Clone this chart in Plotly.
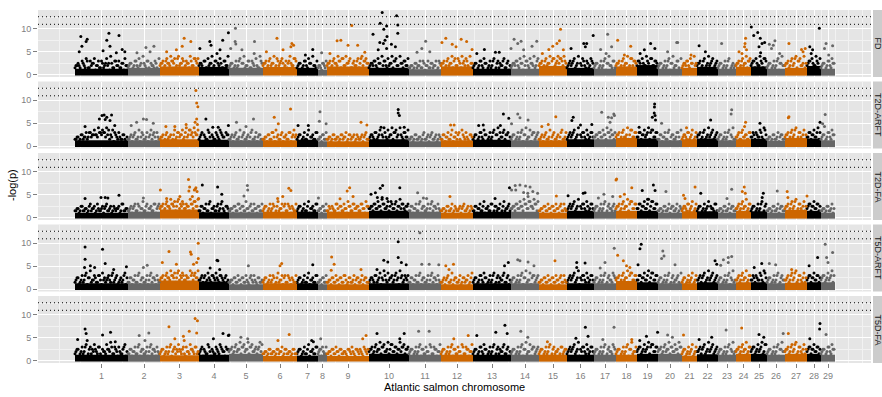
import plotly.graph_objects as go
from plotly.subplots import make_subplots

# ---------------- data ----------------
chromosomes = [str(i) for i in range(1, 30)]
chrom_size = [53, 32, 39, 30, 34, 34, 21, 9, 42, 40, 32, 32, 38, 28, 28, 27, 22, 21, 21,
              24, 15, 21, 18, 15, 16, 18, 22, 14, 14]
chrom_colors = ["#000000", "#666666", "#CD6600"]
traits = ["FD", "T2D-ARFT", "T2D-FA", "T5D-ARFT", "T5D-FA"]
thresholds = [10.96, 12.6]
y_ticks = [0, 5, 10]

# height of the solid, densest part of the cloud per chromosome (-log p)
band_fd = [1.3, 1.5, 1.8, 1.7, 1.5, 1.7, 1.5, 1.1, 1.8, 1.5, 1.2, 1.8, 1.3, 1.3, 1.9, 1.5, 1.3, 1.8, 2.1,
           1.3, 1.5, 1.7, 1.3, 1.7, 1.8, 1.3, 1.5, 1.9, 1.3]
band_t2d_arft = [1.3, 1.3, 1.5, 1.4, 1.3, 1.3, 1.4, 1.1, 1.1, 1.5, 1.1, 1.3, 1.4, 1.3, 1.3, 1.5, 1.5, 1.8, 1.7,
                 1.3, 1.5, 1.7, 1.3, 1.5, 1.6, 1.2, 1.8, 1.7, 1.3]
band_t2d_fa = [1.1, 1.3, 1.8, 1.2, 1.2, 1.3, 1.3, 1.1, 1.3, 1.5, 1.3, 1.1, 1.3, 1.3, 1.1, 1.5, 1.3, 1.5, 1.5,
               1.1, 1.4, 1.4, 1.1, 1.5, 1.4, 1.1, 1.7, 1.5, 1.1]
band_t5d_arft = [1.3, 1.3, 1.9, 1.7, 1.1, 1.3, 1.3, 1.1, 1.1, 1.3, 1.3, 1.1, 1.3, 1.3, 1.1, 1.3, 1.3, 1.8, 1.5,
                 1.3, 1.3, 1.5, 1.3, 1.5, 1.5, 1.3, 1.4, 1.5, 1.5]
band_t5d_fa = [1.3, 1.3, 1.2, 1.3, 1.5, 1.0, 1.1, 1.3, 1.0, 1.5, 1.3, 1.3, 1.3, 1.3, 1.3, 1.3, 1.3, 1.3, 1.5,
               1.5, 1.1, 1.4, 1.3, 1.5, 1.5, 1.3, 1.5, 1.5, 1.3]

# upper edge of the cloud: one digit per SNP, -log(p) in half units
fringe_fd = ["45364736574635475836463574", "4536475846354637", "56475867485736584767", "546375846573648",
             "45364758463647385", "56475846573658476", "4536475846", "43546", "564758674857364758675",
             "45647586475867485647", "3435463546354635", "5647586475867485", "4536475364736547364",
             "45647586475847", "56475867587685", "4657485746375", "45364758463", "5647584765", "6574857465",
             "453647584637", "45647585", "5647485746", "453647354", "56475867", "56748576", "453647584",
             "56475867485", "5674857", "4536475"]
fringe_t2d_arft = ["34354646575867687576463534", "3546374536475463", "45364537465748576857", "465374536475465",
                   "35463746354736453", "34536475364536475", "4536374536", "34536", "343534354635453435463",
                   "45364758475867584647", "3435343635463534", "3546374653746354", "4536475364758647564",
                   "45364758475646", "35463746354736", "4657485647364", "45647586756", "5647485746",
                   "4657586746", "354637453647", "45364736", "5647485746", "453647583", "46374536", "45647485",
                   "343536453", "56475846375", "4657486", "4536475"]
fringe_t2d_fa = ["34353436453435463534453634", "3546354736453646", "56475867586746586758", "354637453647354",
                 "34536453745364536", "45364537465364536", "4536374536", "34536", "345364536475364536475",
                 "45647586475647586456", "3546374536475463", "3435363435463534", "3546374536354637453",
                 "45647586475867", "34536453645363", "4657485647364", "45364736453", "5647586746", "4657485746",
                 "343536453634", "45364736", "4536475463", "343536453", "46475846", "45364736", "343536453",
                 "56475846375", "5657465", "3435364"]
fringe_t5d_arft = ["45364758463647546374635475", "3546374536475463", "56475867586746587658", "465374657465364",
                   "34536453635463534", "45364537465364536", "4536374536", "34536", "345364536435364536453",
                   "45364758475647586456", "3546374536475463", "3546374536354637", "4536475364736547364",
                   "45364758475646", "34536453645363", "4657485647364", "45364736475", "5647586746",
                   "4657485746", "453647364537", "45364736", "4657485746", "453647584", "46475846", "45647485",
                   "453647364", "46475846375", "5657465", "5647586"]
fringe_t5d_fa = ["45364736574635475836463574", "3546374536475463", "45364746574536475364", "465374536475465",
                 "56475867586746587", "34353435463534353", "4536374536", "45636", "345364534354635453645",
                 "56475867485746586756", "4536475364736547", "4536475364736547", "4536475364736547364",
                 "45364758475646", "45364736453645", "4657485647364", "45364736475", "4536475846", "5647586746",
                 "564758647586", "45364736", "4657485746", "453647584", "56475846", "56475847", "453647584",
                 "56475846375", "5657465", "4536475"]

# middle of the cloud: one digit per SNP, -log(p) in half units
mid_fd = ["34425363452436354253643524", "3524634253624352", "45365465374564536475", "452634536245364",
          "35243625346352436", "45364537465436547", "3524635243", "34253", "453654637456354637465",
          "35463524634536425364", "3425343624353426", "4536453746354635", "3524635243625346352",
          "35463524635436", "45364537465746", "3546352463546", "35243625436", "4536453746", "4635463746",
          "352436253462", "35463524", "4536354635", "352436243", "45364536", "46354637", "352436254",
          "45364736453", "4635463", "3524635"]
mid_t2d_arft = ["34253436455465645342534352", "3425342634253624", "34253425364536475465", "352436243536425",
                "34253425342634253", "34253624352436254", "3524352436", "34253", "342534253425342534253",
                "35463524634536425364", "3425342534253425", "3524352436253425", "3524635243625346352",
                "35243625342635", "34253425342634", "3546352463546", "45364536453", "4536453746", "4635463746",
                "352436253462", "35463524", "4536354635", "352436243", "45364536", "46354637", "342534253",
                "45364736453", "4635463", "3524635"]
mid_t2d_fa = ["34253425342634253425342634", "3425362435243625", "45365465374564536475", "352436243536425",
              "34253625342634253", "35243625342635243", "3524352436", "34253", "352436253425364536425",
              "45364536453746354635", "3524362534263524", "3425342534253425", "3524352436253425346",
              "45364536475463", "34253425342634", "3546352463546", "35243625436", "4536453746", "4635463746",
              "342534253425", "35463524", "3524352436", "342534253", "45364536", "35243625", "342534253",
              "45364736453", "4635463", "3425342"]
mid_t5d_arft = ["35243625345362435463524362", "3524362534263524", "45365465374564536475", "453645364536453",
                "34253425342634253", "35243625342635243", "3524352436", "34253", "342534253625342534253",
                "35463524634536425364", "3524362534263524", "3425342534253425", "3524635243625346352",
                "35243625342635", "34253425342634", "3546352463546", "35243625436", "4536453746", "4635463746",
                "352436253462", "35243524", "4536354635", "352436243", "45364536", "46354637", "352436254",
                "45364736453", "4635463", "4635463"]
mid_t5d_fa = ["35243625345362435463524362", "3524362534263524", "35243625345362435463", "352436243536425",
              "45364536453645364", "34253425342534253", "3524352436", "35243", "342534253425342534253",
              "45364536453746354635", "3524362534263524", "3524362534263524", "3524635243625346352",
              "35243625342635", "35243625342635", "3546352463546", "35243625436", "3524362534", "4635463746",
              "453645364536", "35243524", "4536354635", "352436243", "45364536", "46354637", "352436254",
              "45364736453", "4635463", "3524635"]

# isolated high points: (chromosome, relative position in chromosome, -log p)
peaks_fd = [
    (1, .11, 8.3), (1, .23, 7.7), (1, .21, 7.2), (1, .13, 6.2), (1, .08, 5.0), (1, .64, 9.0), (1, .60, 7.5),
    (1, .66, 6.2), (1, .83, 8.5), (1, .53, 5.2), (1, .89, 5.5), (1, .94, 5.0), (1, .78, 4.8),
    (2, .81, 6.2), (2, .56, 5.9), (2, .28, 4.8), (2, .69, 5.0),
    (3, .62, 7.9), (3, .79, 7.2), (3, .42, 5.4), (3, .57, 6.2), (3, .17, 5.0),
    (4, .98, 9.1), (4, .79, 7.5), (4, .36, 7.2), (4, .40, 6.4), (4, .03, 5.7), (4, .70, 5.4), (4, .60, 4.6),
    (5, .19, 10.1), (5, .18, 7.2), (5, .20, 6.7), (5, .75, 7.2), (5, .05, 5.7), (5, .38, 5.4), (5, .74, 4.6),
    (6, .41, 7.9), (6, .85, 6.8), (6, .90, 6.4), (6, .82, 6.1), (6, .59, 5.4), (6, .10, 5.0),
    (7, .75, 5.5), (7, .40, 4.3), (8, .40, 4.8),
    (9, .59, 10.7), (9, .24, 7.4), (9, .33, 7.5), (9, .50, 6.4), (9, .73, 6.4), (9, .07, 4.6), (9, .90, 4.9),
    (10, .33, 13.5), (10, .69, 12.8), (10, .28, 11.2), (10, .44, 10.6), (10, .37, 9.9), (10, .72, 10.8),
    (10, .72, 9.0), (10, .10, 8.8), (10, .45, 8.3), (10, .40, 7.5), (10, .27, 7.0), (10, .36, 6.8),
    (10, .56, 6.6), (10, .66, 6.1), (10, .44, 5.7), (10, .23, 5.4),
    (11, .52, 7.3), (11, .40, 5.7), (11, .25, 4.9), (11, .65, 5.0),
    (12, .15, 7.9), (12, .03, 7.0), (12, .35, 6.6), (12, .63, 7.7), (12, .80, 7.2), (12, .47, 6.1), (12, .97, 5.5),
    (13, .30, 5.5), (13, .59, 4.9), (13, .69, 4.9), (13, .10, 4.6),
    (14, .11, 7.7), (14, .36, 7.3), (14, .24, 6.8), (14, .92, 7.3), (14, .0, 5.7), (14, .75, 6.2), (14, .45, 5.4),
    (15, .77, 9.9), (15, .73, 7.4), (15, .64, 6.8), (15, .49, 6.2), (15, .35, 5.5), (15, .87, 5.4), (15, .12, 4.6),
    (16, .73, 6.8), (16, .68, 6.1), (16, .15, 5.7), (16, .97, 8.5), (16, .62, 6.8),
    (17, .62, 8.8), (17, .30, 5.5), (17, .80, 6.1), (17, .55, 4.6),
    (18, .08, 7.5), (18, .70, 6.2), (18, .40, 4.3),
    (19, .65, 6.8), (19, .35, 5.4), (19, .85, 5.7), (19, .15, 4.6),
    (20, .78, 7.0), (20, .82, 7.0), (20, .40, 5.0), (21, .60, 4.3), (22, .10, 6.3), (22, .40, 5.0), (23, .20, 6.8),
    (24, .64, 7.9), (24, .60, 6.8), (24, .57, 6.1), (24, .70, 5.4), (24, .40, 4.6), (24, .20, 5.0),
    (25, .02, 10.4), (25, .17, 8.5), (25, .42, 9.2), (25, .58, 7.9), (25, .69, 6.8), (25, .50, 6.1),
    (25, .85, 7.0), (25, .60, 4.8),
    (26, .44, 7.4), (26, .35, 6.4), (26, .13, 6.6), (26, .25, 5.7), (26, .70, 4.6),
    (27, .18, 6.8), (27, .75, 5.5), (27, .82, 5.0), (27, .92, 5.7),
    (28, .88, 10.1), (28, .20, 6.1), (28, .40, 5.4), (28, .30, 4.6),
    (29, .36, 6.8), (29, .83, 6.3), (29, .25, 5.7), (29, .55, 4.3)]
peaks_t2d_arft = [
    (1, .51, 6.7), (1, .55, 6.8), (1, .60, 6.3), (1, .69, 6.8), (1, .46, 5.9), (1, .57, 5.8), (1, .66, 5.6),
    (1, .19, 4.3), (1, .75, 4.5),
    (2, .48, 5.9), (2, .58, 5.8), (2, .79, 5.0), (2, .27, 5.2), (2, .10, 4.5),
    (3, .92, 12.1), (3, .94, 9.4), (3, .97, 8.6), (3, .94, 5.9), (3, .90, 5.2), (3, .96, 4.7), (3, .67, 4.7),
    (3, .38, 4.3), (3, .15, 4.3),
    (4, .23, 5.9), (4, .46, 4.1), (4, .64, 4.1), (4, .98, 4.5),
    (5, .22, 5.2), (5, .72, 5.9), (5, .50, 4.3),
    (6, .33, 6.3), (6, .81, 8.1), (6, .45, 4.9),
    (7, .05, 4.5), (7, .54, 4.5), (8, .22, 7.5), (8, .15, 5.4), (8, .90, 4.9),
    (9, .81, 5.2), (9, .95, 4.6),
    (10, .73, 8.0), (10, .73, 7.2), (10, .76, 6.7), (10, .88, 4.1), (10, .30, 4.1),
    (12, .30, 4.6), (12, .41, 4.6),
    (13, .80, 7.0), (13, .94, 6.1), (13, .15, 4.5), (13, .27, 4.6), (13, .72, 4.5),
    (14, .24, 7.0), (14, .32, 6.2), (14, .61, 5.7), (14, .02, 4.9),
    (15, .60, 6.4), (15, .10, 4.3), (15, .33, 4.7),
    (16, .23, 6.3), (16, .18, 5.6), (16, .92, 4.7), (16, .50, 4.6),
    (17, .35, 7.4), (17, .65, 6.3), (17, .80, 6.2), (17, .90, 7.0), (17, .73, 5.2), (17, .93, 6.7),
    (19, .84, 9.2), (19, .83, 8.5), (19, .82, 7.2), (19, .86, 6.7), (19, .88, 5.7), (19, .73, 6.3), (19, .10, 4.1),
    (20, .15, 5.0), (21, .30, 4.0), (22, .65, 5.7), (23, .76, 7.9), (23, .73, 7.0),
    (24, .64, 5.2), (24, .57, 4.3), (25, .56, 5.0), (27, .18, 6.4), (27, .15, 6.2), (28, .93, 5.2),
    (29, .30, 6.9), (29, .12, 4.9), (29, .25, 4.3)]
peaks_t2d_fa = [
    (1, .83, 4.9), (1, .19, 4.2), (1, .49, 4.4), (1, .57, 4.4), (1, .62, 4.3), (2, .48, 4.3),
    (3, .73, 8.3), (3, .92, 6.5), (3, .90, 6.2), (3, .88, 6.0), (3, .95, 5.7), (3, .74, 5.8), (3, .76, 6.7),
    (3, .01, 6.0), (3, .17, 4.2), (3, .51, 4.6), (3, .83, 4.6), (3, .99, 4.2),
    (4, .11, 7.1), (4, .62, 6.7), (4, .76, 5.1),
    (5, .54, 7.0), (5, .55, 6.0), (5, .44, 4.7),
    (6, .76, 6.4), (6, .82, 5.9), (6, .58, 4.6), (6, .43, 4.2), (8, .05, 4.3),
    (9, .48, 5.8), (9, .54, 6.5), (9, .62, 4.6), (9, .31, 4.1),
    (10, .34, 7.0), (10, .28, 6.4), (10, .77, 6.5), (10, .16, 5.4), (10, .05, 5.1), (10, .21, 4.4),
    (10, .33, 4.4), (10, .45, 4.2),
    (11, .27, 5.4), (11, .45, 4.3), (11, .55, 4.2), (12, .28, 4.6), (13, .58, 4.2), (13, .96, 6.5),
    (14, .15, 7.0), (14, .32, 7.1), (14, .52, 6.9), (14, .68, 6.7), (14, .02, 6.0), (14, .17, 6.0),
    (14, .45, 5.5), (14, .60, 5.3), (14, .78, 5.7), (14, .95, 5.3), (14, .61, 4.6),
    (15, .62, 4.7), (16, .04, 4.8), (16, .67, 5.4), (16, .60, 5.3),
    (17, .45, 5.1), (17, .20, 4.3), (17, .85, 4.6),
    (18, .0, 8.2), (18, .03, 8.4), (18, .75, 6.5), (18, .40, 5.1), (18, .20, 4.6),
    (19, .78, 7.1), (19, .25, 5.9), (19, .86, 5.9), (19, .50, 4.0),
    (20, .33, 5.7), (21, .87, 6.7), (21, .10, 4.9), (21, .20, 4.2), (22, .18, 5.3), (23, .76, 6.2), (23, .50, 4.2),
    (24, .55, 6.7), (24, .42, 5.7), (24, .62, 5.3), (25, .77, 5.3), (25, .70, 4.4), (26, .57, 5.8),
    (27, .10, 5.7), (27, .13, 4.4), (27, 1.0, 4.7)]
peaks_t5d_arft = [
    (1, .19, 9.2), (1, .52, 8.7), (1, .19, 6.5), (1, .57, 5.6), (1, .29, 5.1), (1, .18, 4.7), (1, .37, 4.7),
    (1, .73, 4.3), (1, .97, 4.9),
    (2, .60, 5.2), (2, .48, 4.7),
    (3, .98, 10.0), (3, .78, 8.1), (3, .80, 7.6), (3, .23, 8.2), (3, .86, 5.4), (3, .98, 6.7), (3, .94, 5.8),
    (3, .42, 5.4), (3, .06, 5.8),
    (4, .60, 6.3), (4, .63, 6.2), (4, .37, 4.6), (4, .69, 4.3),
    (5, .57, 5.1), (6, .55, 5.6), (6, .50, 5.1), (7, .75, 5.3),
    (9, .11, 7.0), (9, .17, 5.4), (9, .10, 4.1), (9, .81, 4.3),
    (10, .73, 10.3), (10, .73, 6.9), (10, .37, 6.3), (10, .47, 5.9), (10, .81, 5.8), (10, .93, 5.3), (10, .20, 4.3),
    (11, .34, 12.3), (11, .40, 5.4), (11, .63, 5.4), (11, .93, 5.3),
    (12, .15, 5.1), (12, .39, 5.4), (12, .25, 4.3),
    (13, .93, 5.8), (13, .83, 5.1),
    (14, .24, 6.4), (14, .32, 6.2), (14, .61, 5.9), (14, .82, 5.1),
    (15, .57, 6.2), (16, .36, 5.8), (16, .67, 5.7), (16, .36, 4.7),
    (17, .92, 8.9), (17, .50, 5.8), (17, .28, 4.6),
    (18, .08, 7.4), (18, .35, 6.2), (18, .50, 5.1), (18, .66, 4.7),
    (19, .20, 9.8), (19, .14, 8.8), (19, .05, 5.3),
    (20, .15, 6.7), (20, .20, 8.3), (20, .25, 7.2), (20, .71, 5.3),
    (22, .86, 6.2), (22, .94, 5.4),
    (23, .30, 6.4), (23, .57, 6.9), (23, .76, 7.1), (23, .15, 5.2), (23, .57, 5.8),
    (25, .67, 5.6), (25, .20, 4.7), (26, .13, 5.6), (26, .48, 5.3), (27, .30, 4.3),
    (28, .76, 6.9), (28, .15, 5.1),
    (29, .30, 9.8), (29, .83, 8.0), (29, .40, 6.9), (29, .50, 5.8)]
peaks_t5d_fa = [
    (1, .19, 6.9), (1, .21, 5.9), (1, .23, 4.4), (1, .05, 4.6), (1, .52, 5.6), (1, .67, 6.2), (1, .76, 4.1),
    (2, .65, 6.0), (2, .35, 5.5), (2, .53, 4.4),
    (3, .23, 7.4), (3, .90, 9.2), (3, .96, 8.7), (3, .75, 6.4), (3, .60, 5.3), (3, .94, 6.0), (3, .38, 4.8),
    (3, .62, 4.4),
    (4, .80, 5.9), (4, .98, 5.5), (4, 1.0, 5.6), (4, .48, 4.8),
    (5, .35, 5.1), (5, .55, 4.8), (6, .77, 5.7), (6, .44, 4.4), (7, .70, 4.4), (7, .78, 4.1), (8, .30, 4.8),
    (9, .93, 5.5), (9, .85, 4.8), (10, .20, 5.9), (10, .88, 5.9), (10, .77, 4.8),
    (11, .30, 6.4), (11, .63, 6.4), (12, .85, 5.5), (12, .40, 4.8),
    (13, .84, 7.7), (13, .60, 6.2), (13, .90, 5.9), (13, .10, 5.5),
    (14, .35, 6.4), (14, .60, 5.1), (15, .30, 4.1),
    (16, .68, 7.3), (16, .33, 4.9), (16, .78, 5.3), (17, .91, 7.3), (17, .40, 4.6), (18, .75, 4.6),
    (19, .98, 6.2), (19, .45, 5.3), (19, .13, 4.4), (20, .40, 5.6), (20, .60, 5.1), (21, .10, 5.6),
    (22, .70, 5.1), (22, .10, 4.6), (23, .45, 6.7), (24, .38, 7.1), (25, .50, 5.7), (25, .80, 5.1),
    (26, .90, 5.9), (27, .15, 5.9), (28, .93, 8.1), (28, .90, 6.9), (28, .20, 4.8), (29, .36, 5.7)]

bands = [band_fd, band_t2d_arft, band_t2d_fa, band_t5d_arft, band_t5d_fa]
fringes = [fringe_fd, fringe_t2d_arft, fringe_t2d_fa, fringe_t5d_arft, fringe_t5d_fa]
mids = [mid_fd, mid_t2d_arft, mid_t2d_fa, mid_t5d_arft, mid_t5d_fa]
peaks_all = [peaks_fd, peaks_t2d_arft, peaks_t2d_fa, peaks_t5d_arft, peaks_t5d_fa]

# ---------------- layout helpers ----------------
starts = []
acc = 0
for sz in chrom_size:
    starts.append(acc)
    acc += sz
centers = [st + sz / 2 for st, sz in zip(starts, chrom_size)]
col_of = [chrom_colors[i % 3] for i in range(len(chromosomes))]

minor_x = [-16, 5] + [(a + b) / 2 for a, b in zip(centers[:-1], centers[1:])] + [760, 773, 787]

FONT = "Liberation Sans, Arial, sans-serif"
W, H = 882, 397
ML, MR, MT, MB = 38, 11, 10, 34
PW = W - ML - MR
PH = H - MT - MB

fig = make_subplots(rows=5, cols=1, shared_xaxes=True, vertical_spacing=4.5 / PH)

for r in range(1, 6):
    band = bands[r - 1]
    fig.add_trace(go.Bar(x=centers, y=[b + 0.2 for b in band], base=-0.2, width=chrom_size,
                         marker=dict(color=col_of, line=dict(width=0)), hoverinfo="skip",
                         showlegend=False), row=r, col=1)
    pts = {c: ([], []) for c in chrom_colors}
    for layer, shift in ((mids[r - 1], 0.0), (fringes[r - 1], 0.5)):
        for i, s in enumerate(layer):
            n = len(s)
            for j, ch in enumerate(s):
                pts[col_of[i]][0].append(starts[i] + (j + shift) / n * chrom_size[i])
                pts[col_of[i]][1].append(int(ch) * 0.5)
    for chrom, frac, val in peaks_all[r - 1]:
        i = chrom - 1
        pts[col_of[i]][0].append(starts[i] + frac * chrom_size[i])
        pts[col_of[i]][1].append(val)
    for c in chrom_colors:
        fig.add_trace(go.Scatter(x=pts[c][0], y=pts[c][1], mode="markers",
                                 marker=dict(color=c, size=3, line=dict(width=0)),
                                 hoverinfo="skip", showlegend=False), row=r, col=1)
    for th in thresholds:
        fig.add_hline(y=th, line=dict(color="black", width=1, dash="1px,3px"), row=r, col=1)

fig.update_xaxes(range=[-37, 796], tickvals=centers, ticktext=chromosomes, showgrid=True,
                 gridcolor="white", gridwidth=1, zeroline=False, showline=False,
                 minor=dict(tickvals=minor_x, showgrid=True, gridcolor="#F2F2F2", gridwidth=0.6, ticks=""),
                 ticks="", showticklabels=False)
fig.update_xaxes(row=5, col=1, ticks="outside", ticklen=4, tickcolor="#7F7F7F", tickwidth=1,
                 showticklabels=True, tickfont=dict(family=FONT, size=9, color="#7F7F7F"))
fig.update_yaxes(range=[-0.5, 14.07], tickvals=y_ticks, showgrid=True, gridcolor="white", gridwidth=1,
                 zeroline=False, showline=False, ticks="outside", ticklen=4, tickcolor="#7F7F7F",
                 tickwidth=1, tickfont=dict(family=FONT, size=9, color="#7F7F7F"),
                 minor=dict(tickvals=[2.5, 7.5, 12.5], showgrid=True, gridcolor="#F2F2F2", gridwidth=0.6,
                            ticks=""))

shapes = list(fig.layout.shapes)
annotations = []
for r in range(1, 6):
    yname = "yaxis" if r == 1 else f"yaxis{r}"
    d = fig.layout[yname].domain
    shapes.append(dict(type="rect", xref="paper", yref="paper", x0=(873 - ML) / PW, x1=(900 - ML) / PW,
                       y0=d[0], y1=d[1], fillcolor="#CCCCCC", line=dict(width=0), layer="below"))
    annotations.append(dict(text=traits[r - 1], xref="paper", yref="paper", x=(878 - ML) / PW,
                            y=(d[0] + d[1]) / 2, xanchor="center", yanchor="middle", textangle=90,
                            showarrow=False, font=dict(family=FONT, size=9, color="#1A1A1A")))
annotations.append(dict(text="-log(p)", xref="paper", yref="paper", x=(12 - ML) / PW,
                        y=1 - (185 - MT) / PH, xanchor="center", yanchor="middle", textangle=-90,
                        showarrow=False, font=dict(family=FONT, size=11, color="#000000")))
annotations.append(dict(text="Atlantic salmon chromosome", xref="paper", yref="paper", x=0.5,
                        y=-(387 - (MT + PH)) / PH, xanchor="center", yanchor="middle", showarrow=False,
                        font=dict(family=FONT, size=11, color="#000000")))

fig.update_layout(width=W, height=H, margin=dict(l=ML, r=MR, t=MT, b=MB, pad=0),
                  paper_bgcolor="white", plot_bgcolor="#E5E5E5", shapes=shapes,
                  annotations=annotations, showlegend=False, hovermode=False, barmode="overlay",
                  font=dict(family=FONT))

fig.write_html("out.html", config={"displayModeBar": False},
               post_script="document.body.style.margin='0';document.body.style.padding='0';")
